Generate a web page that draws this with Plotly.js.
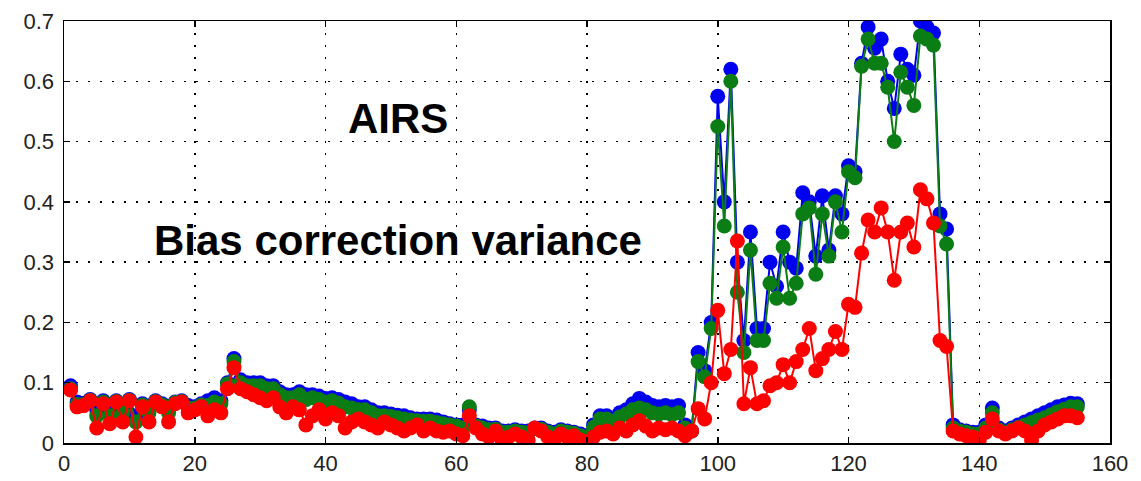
<!DOCTYPE html>
<html>
<head>
<meta charset="utf-8">
<script src="https://cdn.plot.ly/plotly-3.0.1.min.js"></script>
<style>html,body{margin:0;padding:0;background:#fff;}#chart{width:1141px;height:481px;}</style>
</head>
<body>
<div id="chart"></div>
<script>
// channel index
const channels = [];
for (let i = 1; i <= 155; i++) channels.push(i);

const blueSeries = [
0.095,0.068,0.066,0.072,0.055,0.070,0.050,0.070,0.060,0.072,
0.045,0.065,0.060,0.070,0.065,0.060,0.068,0.070,0.062,0.060,
0.065,0.070,0.075,0.070,0.100,0.140,0.105,0.100,0.100,0.100,
0.095,0.095,0.085,0.080,0.080,0.085,0.080,0.080,0.078,0.074,
0.075,0.072,0.068,0.065,0.060,0.060,0.055,0.050,0.050,0.048,
0.046,0.045,0.042,0.040,0.040,0.040,0.038,0.035,0.032,0.030,
0.030,0.055,0.030,0.028,0.025,0.025,0.020,0.020,0.022,0.020,
0.020,0.025,0.025,0.020,0.018,0.022,0.020,0.018,0.015,0.012,
0.030,0.045,0.045,0.040,0.050,0.055,0.065,0.074,0.068,0.062,
0.060,0.062,0.060,0.062,0.030,0.020,0.150,0.120,0.200,0.575,
0.400,0.620,0.300,0.170,0.350,0.190,0.190,0.300,0.260,0.350,
0.300,0.290,0.415,0.400,0.310,0.410,0.320,0.410,0.380,0.460,
0.450,0.630,0.690,0.655,0.670,0.600,0.555,0.645,0.620,0.610,
0.700,0.690,0.680,0.380,0.355,0.030,0.022,0.020,0.018,0.018,
0.030,0.058,0.025,0.020,0.025,0.030,0.035,0.040,0.045,0.050,
0.055,0.060,0.063,0.066,0.065];

const greenSeries = [
0.090,0.064,0.064,0.071,0.045,0.068,0.045,0.069,0.050,0.071,
0.035,0.063,0.050,0.069,0.063,0.050,0.067,0.069,0.058,0.058,
0.063,0.062,0.068,0.065,0.098,0.135,0.100,0.095,0.095,0.095,
0.090,0.090,0.080,0.075,0.075,0.080,0.072,0.075,0.072,0.068,
0.070,0.066,0.060,0.058,0.055,0.055,0.050,0.045,0.045,0.044,
0.042,0.040,0.038,0.037,0.036,0.036,0.034,0.032,0.030,0.028,
0.025,0.060,0.028,0.025,0.022,0.023,0.018,0.018,0.020,0.018,
0.017,0.024,0.023,0.018,0.015,0.020,0.018,0.016,0.012,0.010,
0.026,0.040,0.040,0.035,0.043,0.048,0.055,0.058,0.055,0.050,
0.048,0.050,0.047,0.050,0.025,0.020,0.135,0.110,0.190,0.525,
0.360,0.600,0.250,0.150,0.320,0.170,0.170,0.265,0.240,0.325,
0.240,0.265,0.380,0.390,0.280,0.380,0.310,0.400,0.350,0.450,
0.440,0.625,0.670,0.630,0.630,0.590,0.500,0.615,0.590,0.560,
0.675,0.670,0.660,0.360,0.330,0.025,0.020,0.018,0.015,0.015,
0.025,0.050,0.022,0.018,0.022,0.026,0.030,0.034,0.038,0.042,
0.047,0.052,0.056,0.060,0.060];

const redSeries = [
0.088,0.060,0.062,0.070,0.025,0.065,0.032,0.068,0.035,0.070,
0.010,0.060,0.035,0.068,0.060,0.035,0.065,0.068,0.050,0.055,
0.060,0.045,0.055,0.050,0.090,0.125,0.090,0.085,0.080,0.075,
0.070,0.075,0.060,0.050,0.060,0.055,0.030,0.045,0.055,0.040,
0.050,0.045,0.025,0.035,0.040,0.035,0.030,0.025,0.035,0.030,
0.025,0.020,0.025,0.030,0.020,0.025,0.020,0.018,0.020,0.015,
0.012,0.045,0.025,0.015,0.010,0.020,0.005,0.010,0.015,0.010,
0.005,0.025,0.020,0.010,0.005,0.015,0.010,0.012,0.005,0.002,
0.010,0.018,0.020,0.015,0.025,0.020,0.030,0.037,0.028,0.020,
0.025,0.022,0.025,0.020,0.012,0.020,0.057,0.040,0.100,0.220,
0.115,0.155,0.335,0.065,0.125,0.065,0.070,0.095,0.100,0.130,
0.100,0.135,0.155,0.190,0.120,0.140,0.155,0.185,0.155,0.230,
0.225,0.315,0.370,0.350,0.390,0.350,0.270,0.350,0.365,0.325,
0.420,0.405,0.365,0.170,0.160,0.020,0.015,0.012,0.010,0.005,
0.018,0.040,0.020,0.015,0.020,0.025,0.020,0.005,0.020,0.030,
0.035,0.040,0.045,0.045,0.042];

const xTickVals = [0,20,40,60,80,100,120,140,160];
const xTickText = ['0','20','40','60','80','100','120','140','160'];
const yTickVals = [0,0.1,0.2,0.3,0.4,0.5,0.6,0.7];
const yTickText = ['0','0.1','0.2','0.3','0.4','0.5','0.6','0.7'];

const labelTitle = 'AIRS';
const labelSub = 'Bias correction variance';

function mk(y, color) {
  return {
    x: channels, y: y, type: 'scatter', mode: 'lines+markers',
    line: {color: color, width: 2},
    marker: {color: color, size: 15, symbol: 'circle', line: {width: 0}},
    showlegend: false, hoverinfo: 'skip'
  };
}

const data = [mk(blueSeries, 'rgb(0,0,240)'), mk(greenSeries, 'rgb(10,125,20)'), mk(redSeries, 'rgb(255,0,0)')];

const axisCommon = {
  showline: true, linecolor: '#000', linewidth: 1.5, mirror: 'ticks',
  ticks: 'inside', ticklen: 6, tickcolor: '#000', tickwidth: 1.5,
  showgrid: true, gridcolor: '#000', gridwidth: 1.5, griddash: '2px,10px',
  zeroline: false, tickfont: {family: 'Arial, Liberation Sans, sans-serif', size: 22, color: '#222'}
};

const layout = {
  width: 1141, height: 481,
  margin: {l: 64, r: 31, t: 21, b: 38},
  paper_bgcolor: '#fff', plot_bgcolor: '#fff',
  xaxis: Object.assign({}, axisCommon, {range: [0, 160], tickmode: 'array', tickvals: xTickVals, ticktext: xTickText}),
  yaxis: Object.assign({}, axisCommon, {range: [0, 0.7], tickmode: 'array', tickvals: yTickVals, ticktext: yTickText, ticklabelstandoff: 4}),
  annotations: [
    {x: 51.1, y: 0.539, xref: 'x', yref: 'y', text: '<b>' + labelTitle + '</b>', showarrow: false,
     font: {family: 'Arial, Liberation Sans, sans-serif', size: 42, color: '#000'}},
    {x: 51.1, y: 0.336, xref: 'x', yref: 'y', text: '<b>' + labelSub + '</b>', showarrow: false,
     font: {family: 'Arial, Liberation Sans, sans-serif', size: 42, color: '#000'}}
  ]
};

Plotly.newPlot('chart', data, layout, {displayModeBar: false, staticPlot: true});
</script>
</body>
</html>
